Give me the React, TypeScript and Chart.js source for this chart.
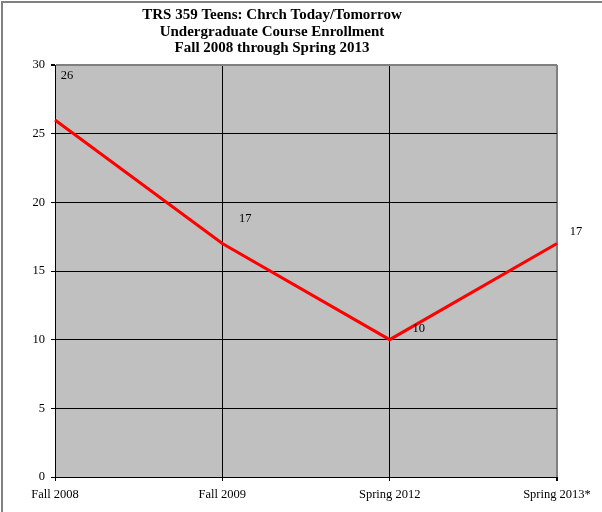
import React, { useEffect, useRef } from "react";
import { Chart, registerables } from "chart.js";

Chart.register(...registerables);

const categories = ["Fall 2008", "Fall 2009", "Spring 2012", "Spring 2013*"];
const enrollment = [26, 17, 10, 17];
const titleLines = [
  "TRS 359 Teens: Chrch Today/Tomorrow",
  "Undergraduate Course Enrollment",
  "Fall 2008 through Spring 2013",
];
const labelOffsets = [
  [12, -44],
  [23, -25],
  [29, -11],
  [19, -12],
];

const FONT = "'Liberation Serif', 'Times New Roman', serif";

const decorPlugin = {
  id: "decor",
  beforeDraw(chart: any) {
    const { ctx, chartArea } = chart;
    ctx.save();
    ctx.fillStyle = "#ffffff";
    ctx.fillRect(0, 0, chart.width, chart.height);
    ctx.fillStyle = "#C0C0C0";
    ctx.fillRect(chartArea.left, chartArea.top, chartArea.right - chartArea.left, chartArea.bottom - chartArea.top);
    ctx.strokeStyle = "#808080";
    ctx.lineWidth = 2;
    ctx.beginPath();
    ctx.moveTo(2, chart.height);
    ctx.lineTo(2, 2);
    ctx.lineTo(chart.width, 2);
    ctx.stroke();
    ctx.restore();
  },
  afterDraw(chart: any) {
    const { ctx } = chart;
    ctx.save();
    ctx.fillStyle = "#000000";
    ctx.textAlign = "center";
    ctx.textBaseline = "middle";
    ctx.font = `bold 15px ${FONT}`;
    titleLines.forEach((t, i) => ctx.fillText(t, 272, 15.5 + i * 16.5));
    const meta = chart.getDatasetMeta(0);
    ctx.font = `12.5px ${FONT}`;
    meta.data.forEach((pt: any, i: number) => {
      const [dx, dy] = labelOffsets[i];
      ctx.fillText(String(enrollment[i]), pt.x + dx, pt.y + dy);
    });
    ctx.restore();
  },
};

export default function App() {
  const ref = useRef<HTMLCanvasElement | null>(null);
  useEffect(() => {
    document.body.style.margin = "0";
    const chart = new Chart(ref.current as HTMLCanvasElement, {
      type: "line",
      data: {
        labels: categories,
        datasets: [
          {
            data: enrollment,
            borderColor: "#FF0000",
            borderWidth: 3,
            pointRadius: 0,
            tension: 0,
            fill: false,
          },
        ],
      },
      plugins: [decorPlugin],
      options: {
        responsive: false,
        animation: false,
        layout: { padding: { top: 65, right: 45, left: 0, bottom: 0 } },
        plugins: { legend: { display: false }, title: { display: false }, tooltip: { enabled: false } },
        scales: {
          x: {
            offset: false,
            afterFit: (s: any) => {
              s.height = 35;
              s.paddingLeft = 0;
              s.paddingRight = 0;
            },
            border: { color: "#000000", width: 1 },
            grid: {
              color: (c: any) => (c.index === categories.length - 1 ? "#808080" : "#000000"),
              lineWidth: (c: any) => (c.index === categories.length - 1 ? 2 : 1),
              tickLength: 4,
              tickColor: "#000000",
            },
            ticks: { color: "#000000", font: { family: FONT, size: 12.5 }, padding: 6, maxRotation: 0, autoSkip: false },
          },
          y: {
            min: 0,
            max: 30,
            afterFit: (s: any) => {
              s.width = 55;
              s.paddingTop = 0;
              s.paddingBottom = 0;
            },
            border: { color: "#000000", width: 1 },
            grid: {
              color: (c: any) => (c.tick && c.tick.value === 30 ? "#808080" : "#000000"),
              lineWidth: (c: any) => (c.tick && c.tick.value === 30 ? 2 : 1),
              tickLength: 4,
              tickColor: "#000000",
            },
            ticks: { stepSize: 5, color: "#000000", font: { family: FONT, size: 12.5 }, padding: 6 },
          },
        },
      },
    });
    return () => chart.destroy();
  }, []);
  return <canvas ref={ref} width={602} height={512} style={{ display: "block" }} />;
}
